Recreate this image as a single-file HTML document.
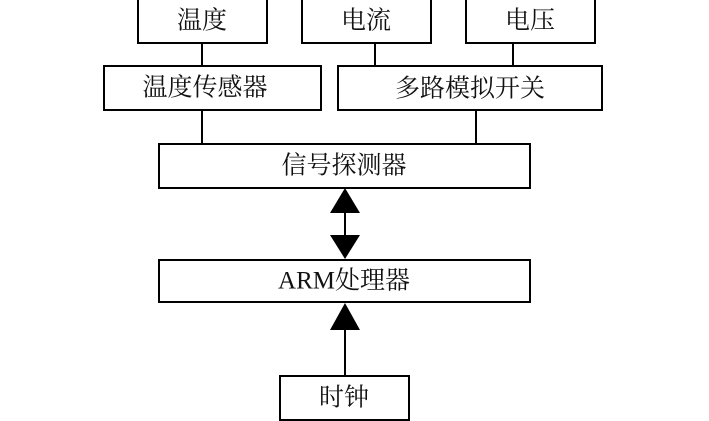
<!DOCTYPE html>
<html><head><meta charset="utf-8"><style>
html,body{margin:0;padding:0;background:#fff;}
svg{display:block}
text{font-family:"Liberation Serif","Noto Serif CJK SC","Noto Sans CJK SC",serif;font-size:25px;fill:#111;text-anchor:middle;dominant-baseline:central}
</style></head><body>
<svg width="709" height="421" viewBox="0 0 709 421" xmlns="http://www.w3.org/2000/svg">
<g fill="none" stroke="#000" stroke-width="2">
<rect x="138" y="-2" width="129" height="45"/>
<rect x="302" y="-2" width="129" height="45"/>
<rect x="466" y="-2" width="129" height="45"/>
<rect x="104" y="66" width="217" height="44"/>
<rect x="338" y="66" width="264" height="44"/>
<rect x="159" y="144" width="371" height="44"/>
<rect x="159" y="260" width="371" height="42"/>
<rect x="280" y="376" width="129" height="44"/>
<line x1="202" y1="43" x2="202" y2="66"/>
<line x1="375" y1="43" x2="375" y2="66"/>
<line x1="513" y1="43" x2="513" y2="66"/>
<line x1="202" y1="110" x2="202" y2="144"/>
<line x1="476" y1="110" x2="476" y2="144"/>
<line x1="345" y1="205" x2="345" y2="245"/>
<line x1="345" y1="320" x2="345" y2="376"/>
</g>
<g fill="#000">
<polygon points="345,188 330,213 360,213"/>
<polygon points="345,259 330,235 360,235"/>
<polygon points="345,303 330,330 360,330"/>
</g>
<text x="202" y="21">温度</text>
<text x="366" y="21">电流</text>
<text x="530" y="21">电压</text>
<text x="205" y="88">温度传感器</text>
<text x="470" y="89">多路模拟开关</text>
<text x="344" y="166">信号探测器</text>
<text x="344" y="281">ARM处理器</text>
<text x="344" y="398">时钟</text>
</svg>
</body></html>
